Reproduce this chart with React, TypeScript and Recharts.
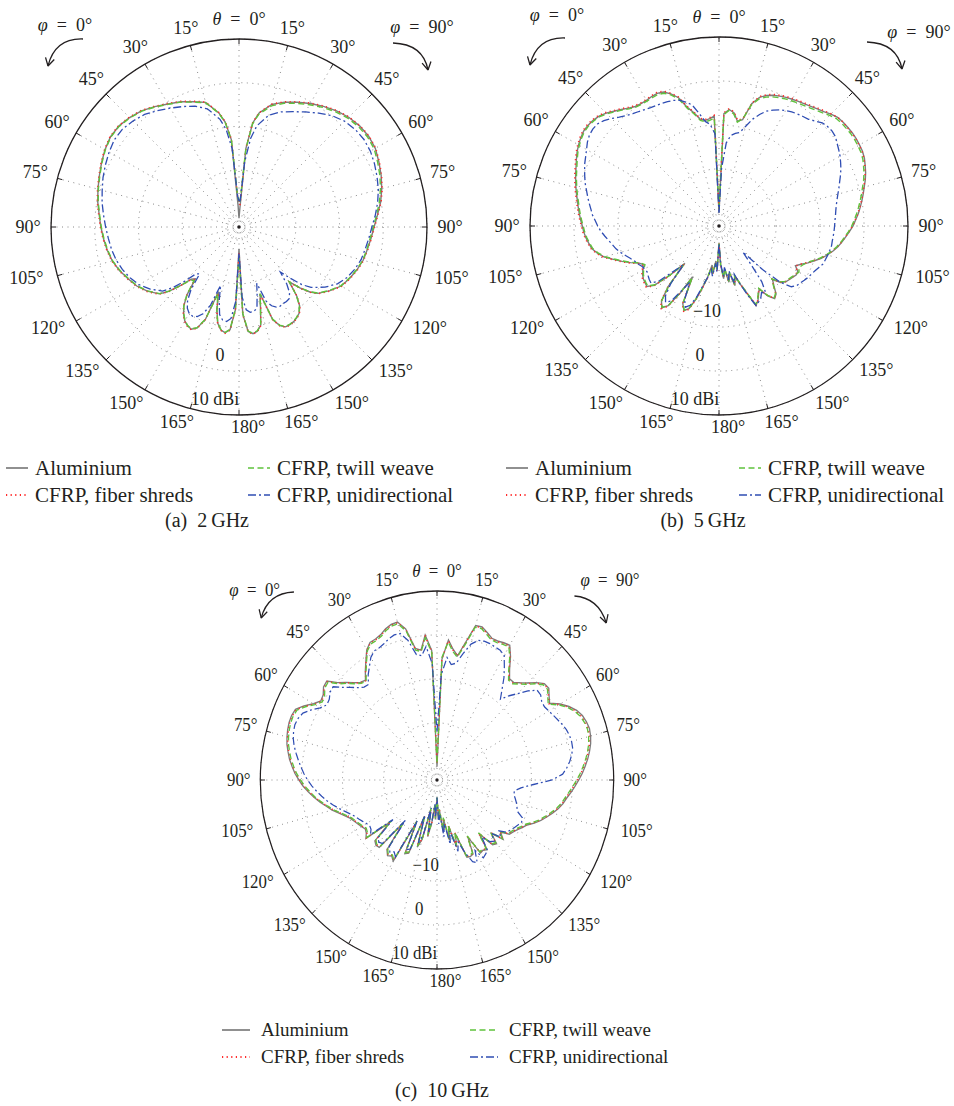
import {
  PolarAngleAxis,
  PolarGrid,
  PolarRadiusAxis,
  Radar,
  RadarChart,
} from "recharts";

const FONT = '"Liberation Serif", "DejaVu Serif", serif';
const INK = "#231f20";

// θ samples (deg) of the 2 GHz cuts, denser around the back lobes
const theta2 = [
  0, 2.5, 5, 7.5, 10,
  15, 20, 25, 30, 35, 40, 45, 50, 55, 60, 65, 70,
  75, 80, 85, 90, 95, 100, 105, 110, 115, 120, 125,
  130, 132.5, 135, 137.5, 140, 142.5, 145, 147.5, 150, 152.5, 155,
  157.5, 160, 162.5, 165, 167.5, 170, 172.5, 175, 177.5, 180,
];

// θ samples (deg) of the 5 and 10 GHz cuts
const theta = [
  0, 2.5, 5, 7.5, 10, 12.5, 15, 17.5, 20, 22.5,
  25, 27.5, 30, 32.5, 35, 37.5, 40, 42.5, 45, 47.5,
  50, 52.5, 55, 57.5, 60, 62.5, 65, 67.5, 70, 72.5,
  75, 77.5, 80, 82.5, 85, 87.5, 90, 92.5, 95, 97.5,
  100, 102.5, 105, 107.5, 110, 112.5, 115, 117.5, 120, 122.5,
  125, 127.5, 130, 132.5, 135, 137.5, 140, 142.5, 145, 147.5,
  150, 152.5, 155, 157.5, 160, 162.5, 165, 167.5, 170, 172.5,
  175, 177.5, 180,
];

// ---- 2 GHz, gain in dBi ----
const alu2Phi0 = [
  -31, -28, -13, -8.8, -6.5,
  -3.5, -2.5, -1.4, -0.5, 0.6, 1.7, 2.4, 2.9, 2.9, 2.4, 1.7, 1.0,
  0.4, -0.2, -0.9, -1.4, -1.9, -2.4, -3.0, -3.9, -5.0, -6.0, -7.4,
  -9.2, -11.2, -14.0, -16.8, -17.5, -13.5, -11.0, -9.4, -8.2, -7.5, -7.2,
  -8.0, -10.5, -17.5, -13.5, -10.5, -9.1, -8.6, -9.4, -14.0, -28,
];
const alu2Phi90 = [
  -31, -29, -15, -9.0, -6.5,
  -4.0, -2.6, -1.5, -0.4, 0.7, 1.7, 2.5, 3.0, 3.2, 3.0, 2.3, 1.6,
  0.8, -0.1, -1.2, -2.1, -2.7, -3.2, -3.6, -4.3, -5.1, -6.0, -7.6,
  -9.4, -11.0, -13.3, -16.0, -12.5, -10.2, -9.0, -8.4, -8.0, -7.8, -7.8,
  -8.6, -10.5, -17.0, -14.0, -10.0, -8.8, -8.4, -9.0, -13.0, -28,
];
const shreds2Phi0 = [
  -27, -26, -12.8, -8.7, -6.4,
  -3.4, -2.4, -1.3, -0.4, 0.7, 1.8, 2.5, 3.0, 3.0, 2.5, 1.8, 1.1,
  0.5, -0.1, -0.8, -1.3, -1.8, -2.3, -2.9, -3.8, -4.9, -5.9, -7.3,
  -9.1, -11.1, -13.9, -16.6, -17.3, -13.4, -10.9, -9.3, -8.1, -7.4, -7.1,
  -7.9, -10.4, -17.2, -13.4, -10.4, -9.0, -8.5, -9.3, -13.9, -27,
];
const shreds2Phi90 = [
  -27, -28, -14.8, -8.9, -6.4,
  -3.9, -2.5, -1.4, -0.3, 0.8, 1.8, 2.6, 3.1, 3.3, 3.1, 2.4, 1.7,
  0.9, 0.0, -1.1, -2.0, -2.6, -3.1, -3.5, -4.2, -5.0, -5.9, -7.5,
  -9.3, -10.9, -13.2, -15.8, -12.4, -10.1, -8.9, -8.3, -7.9, -7.7, -7.7,
  -8.5, -10.4, -16.8, -13.8, -9.9, -8.7, -8.3, -8.9, -12.9, -27,
];
const twill2Phi0 = [
  -27, -26, -13, -8.9, -6.6,
  -3.6, -2.6, -1.5, -0.6, 0.5, 1.6, 2.3, 2.8, 2.8, 2.3, 1.6, 0.9,
  0.3, -0.3, -1.0, -1.5, -2.0, -2.5, -3.1, -4.0, -5.1, -6.1, -7.5,
  -9.3, -11.3, -14.0, -16.5, -17.0, -13.4, -11.0, -9.5, -8.3, -7.6, -7.3,
  -8.1, -10.6, -17.0, -13.4, -10.5, -9.2, -8.7, -9.5, -14.2, -26,
];
const twill2Phi90 = [
  -27, -27, -15, -9.2, -6.8,
  -4.3, -2.9, -1.8, -0.7, 0.4, 1.4, 2.2, 2.7, 2.9, 2.7, 2.0, 1.3,
  0.5, -0.4, -1.4, -2.3, -2.9, -3.3, -3.7, -4.4, -5.2, -6.1, -7.7,
  -9.5, -11.1, -13.4, -16.0, -12.6, -10.3, -9.1, -8.5, -8.1, -7.9, -7.9,
  -8.7, -10.6, -17.0, -14.0, -10.1, -8.9, -8.5, -9.1, -13.2, -26,
];
const uni2Phi0 = [
  -27, -26, -15, -10.5, -8.0,
  -5.0, -3.6, -2.6, -1.6, -0.5, 0.6, 1.3, 1.8, 1.8, 1.3, 0.7, 0.1,
  -0.6, -1.2, -1.9, -2.5, -3.0, -3.4, -3.9, -4.6, -5.5, -6.6, -8.2,
  -10.2, -12.5, -15.5, -18.5, -19.0, -15.0, -12.5, -11.0, -10.2, -10.0, -10.4,
  -11.5, -14.0, -19.0, -15.5, -12.5, -11.4, -11.2, -12.0, -16.0, -27,
];
const uni2Phi90 = [
  -27, -27, -18, -12.5, -9.5,
  -6.5, -5.0, -3.9, -2.6, -1.2, 0.2, 1.2, 1.7, 1.9, 1.7, 1.2, 0.6,
  0.0, -0.8, -1.7, -2.6, -3.2, -3.7, -4.1, -4.8, -5.7, -7.0, -9.0,
  -11.5, -13.5, -16.5, -19.0, -16.0, -14.0, -13.0, -12.8, -12.8, -12.6, -12.8,
  -13.5, -15.0, -19.5, -17.0, -14.0, -13.4, -13.3, -14.0, -17.0, -27,
];

// ---- 5 GHz ----
const alu5Phi0 = [
  -30, -8.0, -8.5, -8.8, -8.3, -6.6, -5.0, -2.4, -1.0, 0.0,
  0.3, 0.2, 0.0, 0.0, 0.2, 0.8, 1.6, 2.4, 3.3, 4.0,
  4.4, 4.6, 4.6, 4.3, 3.9, 3.4, 2.8, 2.2, 1.7, 1.2,
  0.7, 0.2, -0.3, -0.7, -1.1, -1.5, -1.9, -2.2, -2.6, -3.1,
  -3.6, -4.6, -5.9, -7.8, -9.5, -11.2, -13.0, -13.8, -13.0, -12.4,
  -12.0, -11.8, -11.6, -13.0, -17.0, -21.5, -15.0, -11.5, -10.3, -11.5,
  -15.5, -20.0, -13.5, -12.2, -13.0, -15.5, -18.5, -21.0, -24.0, -22.0,
  -25.0, -23.0, -29,
];
const alu5Phi90 = [
  -30, -7.4, -6.4, -7.0, -8.8, -8.2, -4.2, -2.3, -1.4, -0.8,
  -0.4, 0.0, 0.3, 0.6, 0.9, 1.3, 1.8, 2.3, 3.0, 3.6,
  3.8, 3.9, 4.0, 4.0, 3.9, 3.8, 3.5, 3.0, 2.5, 1.9,
  1.2, 0.6, 0.0, -0.6, -1.2, -1.9, -2.5, -3.3, -4.1, -4.8,
  -5.6, -6.5, -7.5, -8.6, -9.9, -11.1, -12.4, -13.4, -12.3, -12.2,
  -12.6, -12.9, -13.2, -14.0, -15.8, -14.5, -12.8, -12.2, -13.5, -16.0,
  -15.0, -13.8, -13.1, -16.5, -19.0, -21.0, -19.0, -22.0, -20.0, -23.0,
  -21.0, -24.0, -29,
];
const shreds5Phi0 = [
  -29, -7.8, -8.3, -8.6, -8.1, -6.4, -4.8, -2.2, -0.8, 0.2,
  0.5, 0.4, 0.2, 0.2, 0.4, 1.0, 1.8, 2.6, 3.5, 4.2,
  4.6, 4.8, 4.8, 4.5, 4.1, 3.6, 3.0, 2.4, 1.9, 1.4,
  0.9, 0.4, -0.1, -0.5, -0.9, -1.3, -1.7, -2.0, -2.4, -2.9,
  -3.4, -4.4, -5.7, -7.6, -9.3, -11.0, -12.8, -13.6, -12.8, -12.2,
  -11.8, -11.6, -11.4, -12.8, -16.8, -21.2, -14.8, -11.3, -10.1, -11.3,
  -15.3, -19.6, -13.3, -12.0, -12.8, -15.3, -18.3, -20.8, -23.6, -21.8,
  -24.6, -22.8, -29,
];
const shreds5Phi90 = [
  -29, -7.2, -6.2, -6.8, -8.6, -8.0, -4.0, -2.1, -1.2, -0.6,
  -0.2, 0.2, 0.5, 0.8, 1.1, 1.5, 2.0, 2.5, 3.1, 3.6,
  3.8, 3.8, 3.9, 3.9, 3.8, 3.7, 3.4, 2.9, 2.4, 1.8,
  1.1, 0.5, -0.1, -0.7, -1.3, -2.0, -2.6, -3.4, -4.2, -4.9,
  -5.7, -6.6, -7.6, -8.7, -10.0, -11.2, -12.5, -13.3, -12.4, -12.3,
  -12.7, -13.0, -13.3, -14.1, -15.9, -14.6, -12.9, -12.3, -13.6, -16.1,
  -15.1, -13.9, -13.2, -16.6, -19.1, -21.1, -19.1, -22.1, -20.1, -23.1,
  -21.1, -24.1, -29,
];
const twill5Phi0 = [
  -29, -8.4, -8.9, -9.1, -8.6, -6.9, -5.3, -2.8, -1.3, -0.3,
  0.0, -0.1, -0.2, -0.2, 0.0, 0.6, 1.4, 2.2, 3.1, 3.8,
  4.2, 4.4, 4.4, 4.1, 3.7, 3.2, 2.6, 2.0, 1.5, 1.0,
  0.5, 0.0, -0.5, -0.9, -1.3, -1.7, -2.1, -2.4, -2.8, -3.3,
  -3.8, -4.8, -6.1, -8.0, -9.7, -11.4, -13.2, -14.0, -13.2, -12.6,
  -12.2, -12.0, -11.8, -13.2, -17.2, -21.0, -15.2, -11.6, -10.4, -11.6,
  -15.6, -19.8, -13.6, -12.3, -13.1, -15.6, -18.6, -21.2, -23.5, -22.2,
  -24.8, -23.2, -29,
];
const twill5Phi90 = [
  -29, -7.6, -6.6, -7.3, -9.0, -8.0, -4.5, -2.7, -1.8, -1.2,
  -0.8, -0.4, -0.1, 0.2, 0.5, 0.9, 1.4, 1.9, 2.6, 3.2,
  3.4, 3.5, 3.6, 3.6, 3.5, 3.4, 3.1, 2.6, 2.1, 1.5,
  0.8, 0.2, -0.4, -1.0, -1.6, -2.2, -2.8, -3.5, -4.3, -5.0,
  -5.8, -6.7, -7.7, -8.8, -10.1, -11.3, -12.0, -12.5, -12.0, -12.4,
  -12.8, -13.1, -13.4, -14.2, -16.0, -14.7, -13.0, -12.4, -13.7, -16.2,
  -15.2, -14.0, -13.3, -16.7, -19.2, -21.2, -19.2, -22.2, -20.2, -23.2,
  -21.2, -24.2, -29,
];
const uni5Phi0 = [
  -30, -12.0, -9.8, -9.0, -7.0, -4.8, -3.8, -3.0, -2.6, -2.4,
  -2.2, -2.1, -1.9, -1.6, -1.2, -0.8, -0.2, 0.6, 1.6, 2.5,
  3.1, 3.2, 3.0, 2.5, 1.8, 1.2, 0.7, 0.1, -0.5, -1.1,
  -1.8, -2.4, -3.0, -3.6, -4.1, -4.8, -5.4, -6.1, -6.9, -7.7,
  -8.4, -9.0, -9.8, -10.7, -11.5, -12.2, -12.6, -13.2, -13.5, -13.6,
  -13.3, -13.0, -12.8, -14.5, -18.5, -21.0, -16.0, -13.0, -11.8, -12.8,
  -16.0, -18.5, -14.5, -13.0, -13.8, -16.0, -19.0, -21.0, -23.0, -21.5,
  -24.5, -22.5, -29,
];
const uni5Phi90 = [
  -30, -20.0, -14.0, -12.2, -11.6, -11.2, -9.5, -7.5, -6.0, -4.7,
  -3.9, -3.2, -2.7, -2.2, -1.9, -1.6, -1.3, -0.6, 0.2, 0.5,
  0.6, 0.4, -0.2, -0.7, -1.2, -1.8, -2.4, -3.1, -3.8, -4.4,
  -5.0, -5.5, -5.9, -6.2, -6.4, -6.6, -6.7, -6.8, -6.9, -7.0,
  -7.0, -7.2, -7.4, -7.6, -7.8, -8.4, -8.9, -9.3, -9.6, -10.0,
  -10.4, -10.7, -11.5, -14.0, -19.0, -25.0, -22.0, -17.0, -14.5, -15.0,
  -14.0, -13.5, -13.0, -16.0, -19.0, -21.5, -19.5, -22.5, -20.5, -23.5,
  -21.5, -24.5, -29,
];

// ---- 10 GHz ----
const alu10Phi0 = [
  -30, -3.5, 0.1, -3.2, -2.6, 2.2, 4.2, 4.1, 3.6, 2.8,
  2.4, 2.3, 1.2, -0.8, -2.6, -4.4, -4.0, -3.0, -1.6, -0.2,
  2.0, 1.8, 0.8, 0.5, 1.7, 3.5, 5.0, 5.3, 5.3, 5.1,
  4.8, 4.4, 3.8, 3.2, 2.4, 1.6, 0.6, -0.4, -1.6, -2.8,
  -4.1, -5.4, -6.6, -8.0, -9.2, -10.2, -10.8, -11.3, -11.8, -12.3,
  -12.0, -11.2, -18.0, -12.5, -12.0, -12.2, -20.0, -13.0, -12.0, -12.5,
  -11.7, -22.0, -14.5, -15.0, -24.0, -17.0, -19.0, -26.0, -20.0, -23.0,
  -27.0, -24.0, -29,
];
const alu10Phi90 = [
  -30, -5.5, -1.0, -3.0, -4.3, -1.0, 3.4, 3.5, 2.7, 1.9,
  1.9, 2.2, 2.4, 0.3, -2.2, -4.0, -4.0, -3.0, -1.8, -0.2,
  1.1, 1.3, 0.3, -0.5, 1.6, 3.2, 4.5, 5.3, 5.7, 5.9,
  5.7, 5.3, 4.7, 4.0, 3.2, 2.4, 1.5, 0.6, -0.3, -1.2,
  -1.9, -2.8, -3.9, -5.0, -6.1, -7.4, -8.8, -9.6, -10.4, -11.0,
  -11.5, -13.5, -12.0, -15.0, -12.5, -13.0, -17.0, -13.0, -13.5, -13.3,
  -18.0, -14.0, -13.8, -14.0, -20.0, -17.0, -22.0, -19.0, -24.0, -21.0,
  -26.0, -24.0, -29,
];
const shreds10Phi0 = [
  -29, -3.8, -0.2, -3.3, -2.8, 2.0, 4.0, 3.9, 3.4, 2.6,
  2.2, 2.1, 1.1, -0.9, -2.7, -4.5, -4.1, -3.1, -1.7, -0.4,
  1.8, 1.6, 0.6, 0.3, 1.5, 3.3, 4.8, 5.1, 5.1, 4.9,
  4.6, 4.2, 3.6, 3.0, 2.2, 1.4, 0.4, -0.6, -1.8, -3.0,
  -4.3, -5.6, -6.8, -8.2, -9.4, -10.4, -11.0, -11.5, -12.0, -12.5,
  -12.2, -11.4, -18.2, -12.7, -12.2, -12.4, -20.2, -13.2, -12.2, -12.7,
  -11.9, -22.2, -14.7, -15.2, -24.2, -17.2, -19.2, -26.2, -20.2, -23.2,
  -27.2, -24.2, -29,
];
const shreds10Phi90 = [
  -29, -5.3, -1.2, -3.2, -4.4, -1.2, 3.2, 3.3, 2.5, 1.7,
  1.7, 2.0, 2.2, 0.1, -2.4, -4.2, -4.2, -3.2, -2.0, -0.4,
  0.9, 1.1, 0.1, -0.7, 1.4, 3.0, 4.2, 5.0, 5.4, 5.6,
  5.4, 5.0, 4.4, 3.7, 2.9, 2.1, 1.2, 0.3, -0.6, -1.4,
  -2.1, -3.0, -4.1, -5.2, -6.3, -7.6, -9.0, -9.8, -10.6, -11.2,
  -11.7, -13.7, -12.2, -15.2, -12.7, -13.2, -17.2, -13.2, -13.7, -13.5,
  -18.2, -14.2, -14.0, -14.2, -20.2, -17.2, -22.2, -19.2, -24.2, -21.2,
  -26.2, -24.2, -29,
];
const twill10Phi0 = [
  -29, -4.0, -0.5, -3.5, -3.0, 1.7, 3.8, 3.7, 3.2, 2.4,
  2.0, 1.9, 0.9, -1.1, -2.9, -4.7, -4.3, -3.3, -1.9, -0.6,
  1.6, 1.4, 0.4, 0.1, 1.3, 3.1, 4.6, 4.9, 4.9, 4.7,
  4.4, 4.0, 3.4, 2.8, 2.0, 1.2, 0.2, -0.8, -2.0, -3.1,
  -4.4, -5.7, -6.9, -8.3, -9.5, -10.5, -11.1, -11.6, -12.1, -12.6,
  -12.3, -11.5, -18.5, -12.8, -12.3, -12.5, -20.5, -13.3, -12.3, -12.8,
  -12.0, -22.5, -14.8, -15.3, -24.5, -17.3, -19.3, -26.5, -20.3, -23.3,
  -27.5, -24.3, -29,
];
const twill10Phi90 = [
  -29, -5.0, -1.5, -3.5, -4.6, -1.5, 3.0, 3.1, 2.3, 1.5,
  1.5, 1.8, 2.0, -0.1, -2.6, -4.4, -4.4, -3.4, -2.2, -0.6,
  0.7, 0.9, -0.1, -0.9, 1.2, 2.8, 4.0, 4.8, 5.2, 5.4,
  5.2, 4.8, 4.2, 3.5, 2.7, 1.9, 1.0, 0.1, -0.8, -1.6,
  -2.3, -3.2, -4.3, -5.4, -6.5, -7.8, -9.2, -10.0, -10.8, -11.4,
  -11.8, -13.8, -12.3, -15.3, -12.8, -13.3, -17.3, -13.3, -13.8, -13.6,
  -18.3, -14.3, -14.1, -14.3, -20.3, -17.3, -22.3, -19.3, -24.3, -21.3,
  -26.3, -24.3, -29,
];
const uni10Phi0 = [
  -22, -6.5, -2.5, -4.5, -4.0, -0.5, 1.5, 1.6, 1.2, 0.6,
  0.2, 0.1, -0.8, -2.4, -3.8, -5.6, -5.4, -4.5, -3.2, -1.8,
  0.0, -0.2, -1.0, -1.2, -0.2, 1.5, 3.0, 3.6, 3.8, 3.6,
  3.2, 2.6, 1.8, 1.0, 0.2, -0.6, -1.5, -2.5, -3.6, -4.7,
  -5.8, -7.0, -8.2, -9.4, -10.5, -11.4, -12.0, -12.6, -13.2, -13.6,
  -13.4, -12.6, -19.0, -13.5, -13.0, -13.4, -21.0, -14.0, -13.0, -13.6,
  -12.8, -22.5, -15.5, -16.0, -24.5, -18.0, -20.0, -26.5, -21.0, -23.5,
  -27.5, -24.5, -29,
];
const uni10Phi90 = [
  -22, -9.0, -5.0, -6.5, -6.0, -3.5, -1.0, 0.3, 0.6, 0.6,
  0.4, 0.3, -0.3, -2.5, -4.6, -7.0, -9.0, -7.0, -5.2, -3.0,
  -1.2, -1.2, -1.9, -2.0, -1.6, -1.1, -0.6, 0.0, 0.5, 0.8,
  0.9, 0.8, 0.3, -0.4, -1.3, -2.4, -5.0, -9.5, -12.5, -14.0,
  -14.0, -13.5, -13.0, -12.6, -12.2, -10.5, -10.3, -10.8, -11.3, -11.8,
  -12.3, -14.0, -12.8, -15.0, -13.3, -14.0, -16.0, -12.8, -12.4, -12.0,
  -14.5, -11.8, -12.5, -15.0, -18.0, -16.0, -21.0, -18.0, -23.0, -20.0,
  -25.0, -23.0, -29,
];

type Material = "alu" | "shreds" | "twill" | "uni";
type Cut = { phi0: number[]; phi90: number[] };
type Row = { angle: number } & Record<Material, number>;

const SERIES: { key: Material; name: string; color: string; width: number; dash?: string }[] = [
  { key: "alu", name: "Aluminium", color: "#7d7d7d", width: 1.4 },
  { key: "shreds", name: "CFRP, fiber shreds", color: "#ff2b2b", width: 1.6, dash: "1.2 3.4" },
  { key: "twill", name: "CFRP, twill weave", color: "#5fc23c", width: 1.4, dash: "6 3.5" },
  { key: "uni", name: "CFRP, unidirectional", color: "#2f4db3", width: 1.3, dash: "8 3 2 3" },
];

const ANGLE_TICKS = [0, 15, 30, 45, 60, 75, 90, 105, 120, 135, 150, 165, 180, 195, 210, 225, 240, 255, 270, 285, 300, 315, 330, 345];
const RING_TICKS = [-30, -20, -10, 0, 10];
const R_DOMAIN: [number, number] = [-33, 10];

// Chart angle runs clockwise from the top: the φ = 90° cut fills the right
// half (angle = θ), the φ = 0° cut the left half (angle = 360 − θ).
function buildRows(th: number[], cuts: Record<Material, Cut>): Row[] {
  const keys = Object.keys(cuts) as Material[];
  const rows: Row[] = [];
  th.forEach((t, i) => {
    const row = { angle: t } as Row;
    keys.forEach((k) => (row[k] = cuts[k].phi90[i]));
    rows.push(row);
  });
  for (let i = th.length - 1; i >= 0; i--) {
    const row = { angle: 360 - th[i] } as Row;
    keys.forEach((k) => (row[k] = cuts[k].phi0[i]));
    rows.push(row);
  }
  return rows;
}

const rows2 = buildRows(theta2, {
  alu: { phi0: alu2Phi0, phi90: alu2Phi90 },
  shreds: { phi0: shreds2Phi0, phi90: shreds2Phi90 },
  twill: { phi0: twill2Phi0, phi90: twill2Phi90 },
  uni: { phi0: uni2Phi0, phi90: uni2Phi90 },
});
const rows5 = buildRows(theta, {
  alu: { phi0: alu5Phi0, phi90: alu5Phi90 },
  shreds: { phi0: shreds5Phi0, phi90: shreds5Phi90 },
  twill: { phi0: twill5Phi0, phi90: twill5Phi90 },
  uni: { phi0: uni5Phi0, phi90: uni5Phi90 },
});
const rows10 = buildRows(theta, {
  alu: { phi0: alu10Phi0, phi90: alu10Phi90 },
  shreds: { phi0: shreds10Phi0, phi90: shreds10Phi90 },
  twill: { phi0: twill10Phi0, phi90: twill10Phi90 },
  uni: { phi0: uni10Phi0, phi90: uni10Phi90 },
});

// ring labels sit just inside their circle, left of the 180° spoke
const RING_LABELS: Record<number, { text: string; dx: number }> = {
  10: { text: "10 dBi", dx: -24 },
  0: { text: "0", dx: -19 },
  [-10]: { text: "−10", dx: -12 },
};

type Pt = [number, number];
type Arrow = { from: Pt; ctrl: Pt; to: Pt };

function CurvedArrow({ from, ctrl, to }: Arrow) {
  const dx = to[0] - ctrl[0];
  const dy = to[1] - ctrl[1];
  const len = Math.hypot(dx, dy);
  const ux = dx / len;
  const uy = dy / len;
  const head = (sign: number) => {
    const a = (sign * 30 * Math.PI) / 180;
    const hx = -(ux * Math.cos(a) - uy * Math.sin(a)) * 9;
    const hy = -(ux * Math.sin(a) + uy * Math.cos(a)) * 9;
    return `M${to[0] + hx},${to[1] + hy} L${to[0]},${to[1]}`;
  };
  return (
    <g fill="none" stroke={INK} strokeWidth={1.3}>
      <path d={`M${from[0]},${from[1]} Q${ctrl[0]},${ctrl[1]} ${to[0]},${to[1]}`} />
      <path d={`${head(1)} ${head(-1)}`} />
    </g>
  );
}

function PhiLabel({ at, value }: { at: Pt; value: number }) {
  return (
    <text x={at[0]} y={at[1]} textAnchor="middle" dominantBaseline="central" fontSize={18} fill={INK} fontFamily={FONT}>
      <tspan fontStyle="italic">φ</tspan>{`\u2002=\u2002${value}°`}
    </text>
  );
}

type PanelProps = {
  rows: Row[];
  left: number;
  top: number;
  width: number;
  height: number;
  cx: number;
  cy: number;
  r: number;
  squeezeX?: number;
  showMinus10: boolean;
  phi0: { at: Pt; arrow: Arrow };
  phi90: { at: Pt; arrow: Arrow };
};

function PolarPanel({ rows, left, top, width, height, cx, cy, r, squeezeX = 1, showMinus10, phi0, phi90 }: PanelProps) {
  const angleTick = (props: any) => {
    const v = props.payload.value as number;
    const a = (v * Math.PI) / 180;
    const s = Math.sin(a);
    const c = Math.cos(a);
    if (v === 0) {
      return (
        <text x={cx} y={cy - r - 20} textAnchor="middle" dominantBaseline="central" fontSize={18} fill={INK} fontFamily={FONT}>
          <tspan fontStyle="italic">θ</tspan>{"\u2002=\u20020°"}
        </text>
      );
    }
    const rr = r + 16 + 7 * Math.abs(s);
    const lower = c < -0.1;
    const x = cx + rr * s + (lower ? 9 * Math.sign(s) : 0);
    const y = cy - rr * c - (lower ? 4 : 0);
    const label = v <= 180 ? v : 360 - v;
    return (
      <text x={x} y={y} textAnchor="middle" dominantBaseline="central" fontSize={18} fill={INK} fontFamily={FONT}>
        {label}°
      </text>
    );
  };

  const ringTick = (props: any) => {
    const v = props.payload.value as number;
    const lab = RING_LABELS[v];
    if (!lab || (v === -10 && !showMinus10)) return <g />;
    return (
      <text x={props.x + lab.dx} y={props.y - 16} textAnchor="middle" dominantBaseline="central" fontSize={18} fill={INK} fontFamily={FONT}>
        {lab.text}
      </text>
    );
  };

  return (
    <div
      style={{
        position: "absolute",
        left,
        top,
        width,
        height,
        transform: squeezeX !== 1 ? `scaleX(${squeezeX})` : undefined,
        transformOrigin: `${cx}px ${cy}px`,
      }}
    >
      <RadarChart
        width={width}
        height={height}
        data={rows}
        cx={cx}
        cy={cy}
        innerRadius={0}
        outerRadius={r}
        startAngle={90}
        endAngle={-270}
        margin={{ top: 0, right: 0, bottom: 0, left: 0 }}
      >
        <PolarGrid gridType="circle" stroke="#7a7a7a" strokeWidth={0.9} strokeDasharray="1 4.5" />
        <PolarAngleAxis
          dataKey="angle"
          type="number"
          domain={[0, 360]}
          ticks={ANGLE_TICKS}
          axisLineType="circle"
          axisLine={{ stroke: INK, strokeWidth: 1.3 }}
          orientation="inner"
          tickSize={5}
          tickLine={{ stroke: INK, strokeWidth: 1 }}
          tick={angleTick}
        />
        <PolarRadiusAxis
          type="number"
          domain={R_DOMAIN}
          ticks={RING_TICKS}
          allowDataOverflow
          angle={-90}
          axisLine={false}
          tickLine={false}
          tick={ringTick}
        />
        {SERIES.map((s) => (
          <Radar
            key={s.key}
            name={s.name}
            dataKey={s.key}
            stroke={s.color}
            strokeWidth={s.width}
            strokeDasharray={s.dash}
            fill="none"
            fillOpacity={0}
            dot={false}
            isAnimationActive={false}
          />
        ))}
        <circle cx={cx} cy={cy} r={1.8} fill={INK} />
        <PhiLabel at={phi0.at} value={0} />
        <CurvedArrow {...phi0.arrow} />
        <PhiLabel at={phi90.at} value={90} />
        <CurvedArrow {...phi90.arrow} />
      </RadarChart>
    </div>
  );
}

function LegendSample({ color, width, dash, length }: { color: string; width: number; dash?: string; length: number }) {
  return (
    <svg width={length} height={10} style={{ display: "block" }}>
      <line x1={0} y1={5} x2={length} y2={5} stroke={color} strokeWidth={width + 0.3} strokeDasharray={dash} />
    </svg>
  );
}

type LegendProps = {
  cols: [number, number];
  rows: [number, number];
  fontSize: number;
  sample: number;
  gap: number;
};

function SeriesLegend({ cols, rows, fontSize, sample, gap }: LegendProps) {
  // column-major: Aluminium / fiber shreds, then twill weave / unidirectional
  return (
    <>
      {SERIES.map((s, i) => {
        const x = cols[Math.floor(i / 2)];
        const y = rows[i % 2];
        return (
          <div
            key={s.key}
            style={{
              position: "absolute",
              left: x,
              top: y - 13,
              height: 26,
              display: "flex",
              alignItems: "center",
              gap,
              whiteSpace: "nowrap",
              fontSize,
              color: INK,
            }}
          >
            <LegendSample color={s.color} width={s.width} dash={s.dash} length={sample} />
            <span>{s.name}</span>
          </div>
        );
      })}
    </>
  );
}

function Caption({ x, y, tag, freq }: { x: number; y: number; tag: string; freq: string }) {
  return (
    <div
      style={{
        position: "absolute",
        left: x - 100,
        top: y - 13,
        width: 200,
        textAlign: "center",
        fontSize: 20,
        color: INK,
        whiteSpace: "nowrap",
      }}
    >
      ({tag})&nbsp;&nbsp;{freq}&thinsp;GHz
    </div>
  );
}

export default function App() {
  return (
    <div
      style={{
        position: "absolute",
        left: 0,
        top: 0,
        width: 954,
        height: 1106,
        background: "#fff",
        fontFamily: FONT,
        overflow: "hidden",
      }}
    >
      <PolarPanel
        rows={rows2}
        left={0}
        top={0}
        width={477}
        height={445}
        cx={239}
        cy={227}
        r={188}
        showMinus10={false}
        phi0={{ at: [65, 25], arrow: { from: [83, 39], ctrl: [55, 38], to: [48, 66] } }}
        phi90={{ at: [422, 27], arrow: { from: [393, 43], ctrl: [423, 44], to: [428, 70] } }}
      />
      <PolarPanel
        rows={rows5}
        left={477}
        top={0}
        width={477}
        height={445}
        cx={242}
        cy={226}
        r={189}
        showMinus10
        phi0={{ at: [80, 15], arrow: { from: [88, 38], ctrl: [60, 37], to: [53, 65] } }}
        phi90={{ at: [442, 32], arrow: { from: [390, 42], ctrl: [420, 43], to: [425, 69] } }}
      />
      {/* the 10 GHz panel is slightly narrower than it is tall */}
      <PolarPanel
        rows={rows10}
        left={0}
        top={540}
        width={954}
        height={470}
        cx={437}
        cy={240}
        r={189}
        squeezeX={0.935}
        showMinus10
        phi0={{ at: [242, 50], arrow: { from: [284, 52], ctrl: [256, 53], to: [249, 78] } }}
        phi90={{ at: [622, 40], arrow: { from: [584, 56], ctrl: [610, 58], to: [618, 83] } }}
      />

      <SeriesLegend cols={[6, 248]} rows={[468, 495]} fontSize={21} sample={22} gap={7} />
      <SeriesLegend cols={[506, 739]} rows={[468, 495]} fontSize={21} sample={22} gap={7} />
      <SeriesLegend cols={[222, 470]} rows={[1030, 1057]} fontSize={19} sample={28} gap={11} />

      <Caption x={207} y={522} tag="a" freq="2" />
      <Caption x={703} y={522} tag="b" freq="5" />
      <Caption x={442} y={1092} tag="c" freq="10" />
    </div>
  );
}
